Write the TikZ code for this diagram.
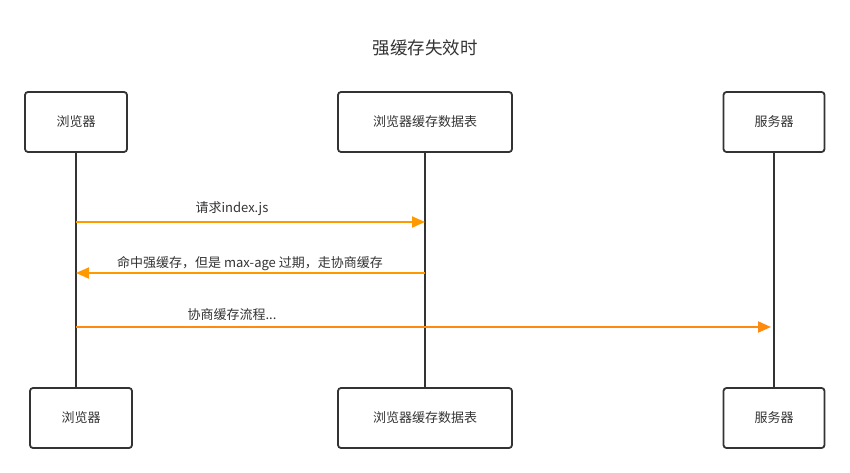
\documentclass[tikz,border=0pt]{standalone}
\usepackage{fontspec}
\setmainfont{Noto Sans CJK SC}
\usetikzlibrary{arrows.meta}

\definecolor{darkline}{HTML}{333333}
\definecolor{msgorange}{HTML}{FF9900}
\definecolor{msgdeep}{HTML}{FF8A10}

\begin{document}
\begin{tikzpicture}[
    x=1pt, y=-1pt,
    font=\fontsize{13}{15}\selectfont,
    text=darkline,
    box/.style={
        rectangle, draw=darkline, line width=1.8pt, rounded corners=3pt,
        align=center, minimum height=60pt, inner sep=0pt
    },
    lifeline/.style={draw=darkline, line width=1.8pt},
    msg/.style={draw=msgorange, line width=1.8pt, -{Triangle[length=13pt, width=11pt]}},
    msgtext/.style={inner sep=0pt},
    title/.style={font=\fontsize{17.5}{20}\selectfont},
]
    \useasboundingbox (0,0) rectangle (850,473);

    % Lifeline x-coordinates.
    \def\xBrowser{76}
    \def\xCache{425}
    \def\xServer{774}

    % Row y-coordinates.
    \def\yTop{122}
    \def\yBot{418}
    \def\yReq{222}
    \def\yHit{273}
    \def\yNeg{327}

    % ---------- Title ----------
    \node[title] (titel) at (425,48) {强缓存失效时};

    % ---------- Participants (top) ----------
    \node[box, minimum width=102pt] (browser-top) at (\xBrowser, \yTop) {浏览器};
    \node[box, minimum width=174pt] (cache-top) at (\xCache, \yTop) {浏览器缓存数据表};
    \node[box, minimum width=101pt] (server-top) at (\xServer, \yTop) {服务器};

    % ---------- Participants (bottom) ----------
    \node[box, minimum width=102pt] (browser-bot) at (81, \yBot) {浏览器};
    \node[box, minimum width=174pt] (cache-bot) at (\xCache, \yBot) {浏览器缓存数据表};
    \node[box, minimum width=101pt] (server-bot) at (\xServer, \yBot) {服务器};

    % ---------- Lifelines ----------
    \draw[lifeline] (browser-top.south) -- (browser-top.south |- browser-bot.north);
    \draw[lifeline] (cache-top.south) -- (cache-bot.north);
    \draw[lifeline] (server-top.south) -- (server-bot.north);

    % Message end points on the lifelines.
    \coordinate (req-from) at (\xBrowser, \yReq);
    \coordinate (req-to) at (\xCache, \yReq);
    \coordinate (hit-from) at (\xCache, \yHit);
    \coordinate (hit-to) at (\xBrowser, \yHit);
    \coordinate (neg-from) at (\xBrowser, \yNeg);
    \coordinate (neg-to) at (\xServer, \yNeg);

    % ---------- Messages ----------
    \draw[msg] (req-from) -- (req-to);
    \node[msgtext] (req-text) at (232, 209) {请求index.js};

    \draw[msg] (hit-from) -- (hit-to);
    \node[msgtext] (hit-text) at (250, 264) {命中强缓存，但是 max-age 过期，走协商缓存};

    \draw[msg, draw=msgdeep, shorten >=3pt] (neg-from) -- (neg-to);
    \node[msgtext] (neg-text) at (232, 315) {协商缓存流程...};

\end{tikzpicture}
\end{document}
